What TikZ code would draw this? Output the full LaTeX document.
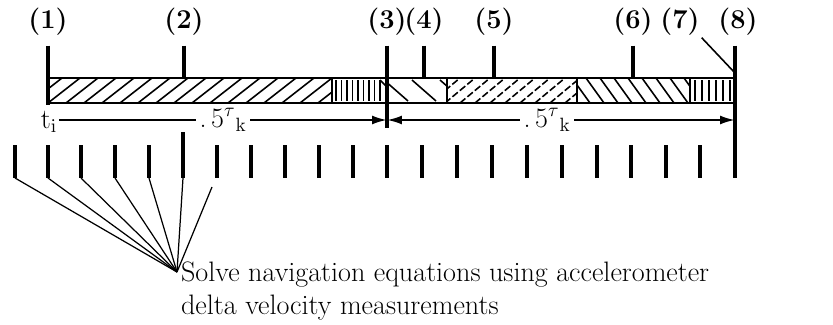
\documentclass[tikz,border=0pt]{standalone}
\usetikzlibrary{arrows.meta,positioning,calc}
\tikzset{
  eventlabel/.style={font=\fontsize{15.5}{17}\selectfont\bfseries,inner sep=1pt},
  eventline/.style={line width=1.8pt,shorten <=1.6mm},
  barframe/.style={draw,line width=1.5pt},
  hatchline/.style={line width=0.9pt},
  dashhatch/.style={line width=0.9pt,dash pattern=on 4pt off 1.5pt},
  divider/.style={line width=0.8pt},
  dimarrow/.style={line width=1.2pt,-{Latex[length=3mm,width=1.8mm]}},
  dimboth/.style={line width=1.2pt,{Latex[length=3mm,width=1.8mm]}-{Latex[length=3mm,width=1.8mm]}},
  dimlabel/.style={fill=white,inner sep=2pt,font=\fontsize{16}{18}\selectfont},
  tickline/.style={line width=1.8pt},
  fanline/.style={line width=0.7pt},
  notetext/.style={align=left,inner sep=1pt,font=\fontsize{16}{18.5}\selectfont}
}

\begin{document}
\begin{tikzpicture}[x=0.02cm,y=-0.02cm]
\useasboundingbox (0,0) rectangle (833,325);

% event numbers
\node[eventlabel] (e1) at (48,22) {(1)};
\node[eventlabel] (e2) at (184,22) {(2)};
\node[eventlabel] (e3) at (387,22) {(3)};
\node[eventlabel] (e4) at (424,22) {(4)};
\node[eventlabel] (e5) at (494,22) {(5)};
\node[eventlabel] (e6) at (633,22) {(6)};
\node[eventlabel] (e7) at (680,22) {(7)};
\node[eventlabel] (e8) at (738,22) {(8)};

% hatched segments of the bar
\begin{scope}
  \clip (48,78) rectangle (332,103);
  \foreach \x in {30,48,...,340} \draw[hatchline] (\x,103) -- ++(32,-25);
\end{scope}
\begin{scope}
  \clip (332,78) rectangle (387,103);
  \foreach \x in {336,341.5,...,382} \draw[hatchline] (\x,80) -- (\x,101);
  \draw[hatchline] (380,80) -- ++(8,8);
\end{scope}
\begin{scope}
  \clip (387,78) rectangle (447,103);
  \foreach \x in {384,412,440} \draw[hatchline] (\x,80) -- ++(24,21);
\end{scope}
\begin{scope}
  \clip (447,78) rectangle (577,103);
  \foreach \x in {430,445,...,580} \draw[dashhatch] (\x,103) -- ++(30,-25);
\end{scope}
\begin{scope}
  \clip (577,78) rectangle (690,103);
  \foreach \x in {572,586,...,690} \draw[hatchline] (\x,78) -- ++(18,25);
\end{scope}
\begin{scope}
  \clip (690,78) rectangle (735,103);
  \foreach \x in {695,702,...,733} \draw[hatchline] (\x,80) -- (\x,101);
\end{scope}

% bar outline and dividers
\draw[barframe] (48,78) rectangle (735,103);
\draw[divider] (332,78) -- (332,103);
\draw[line width=1.3pt] (447,78) -- (447,103);
\draw[divider] (577,78) -- (577,103);
\draw[divider] (690,78) -- (690,103);

% event markers
\coordinate (b1) at (48,105);
\coordinate (b2) at (184,78);
\coordinate (d3) at (387,128);
\coordinate (b4) at (424,78);
\coordinate (b5) at (494,78);
\coordinate (b6) at (633,78);
\coordinate (b7) at (735,73);
\draw[eventline] (e1) -- (b1);
\draw[eventline] (e2) -- (b2);
\draw[eventline] (e3) -- (d3);
\draw[eventline] (e4) -- (b4);
\draw[eventline] (e5) -- (b5);
\draw[eventline] (e6) -- (b6);
\draw[line width=0.9pt] (e7.south east) -- (b7);

% time base
\node[font=\fontsize{16}{18}\selectfont,inner sep=1pt] (ti) at (49,122) {t$_{\mathrm{i}}$};
\coordinate (m3) at (387,120);
\coordinate (m8) at (735,120);
\draw[dimarrow] (ti.east |- m3) -- node[dimlabel] (half1) {.\,5$^{\tau}{}_{\mathrm{k}}$} (m3);
\draw[dimboth] (m3) -- node[dimlabel,pos=0.46] (half2) {.\,5$^{\tau}{}_{\mathrm{k}}$} (m8);

% accelerometer sample ticks
\foreach \x [count=\i from 0] in {15,48,81,115,149,183,217,251,285,319,353,387,422,457,492,527,562,597,631,666,700,735}
{
  \coordinate (tk\i) at (\x,178);
  \draw[tickline] (\x,145) -- (tk\i);
}
\draw[tickline] (tk5) -- ++(0,-46);
\draw[eventline] (e8.south -| tk21) -- (tk21);

% note with fan of leaders
\coordinate (focus) at (177,272);
\coordinate (tkx) at (212,187);
\foreach \i in {0,...,5} \draw[fanline] (tk\i) -- (focus);
\draw[fanline] (tkx) -- (focus);
\node[notetext,anchor=north west] (note) at (179,260)
  {Solve navigation equations using accelerometer\\delta velocity measurements};
\end{tikzpicture}
\end{document}
